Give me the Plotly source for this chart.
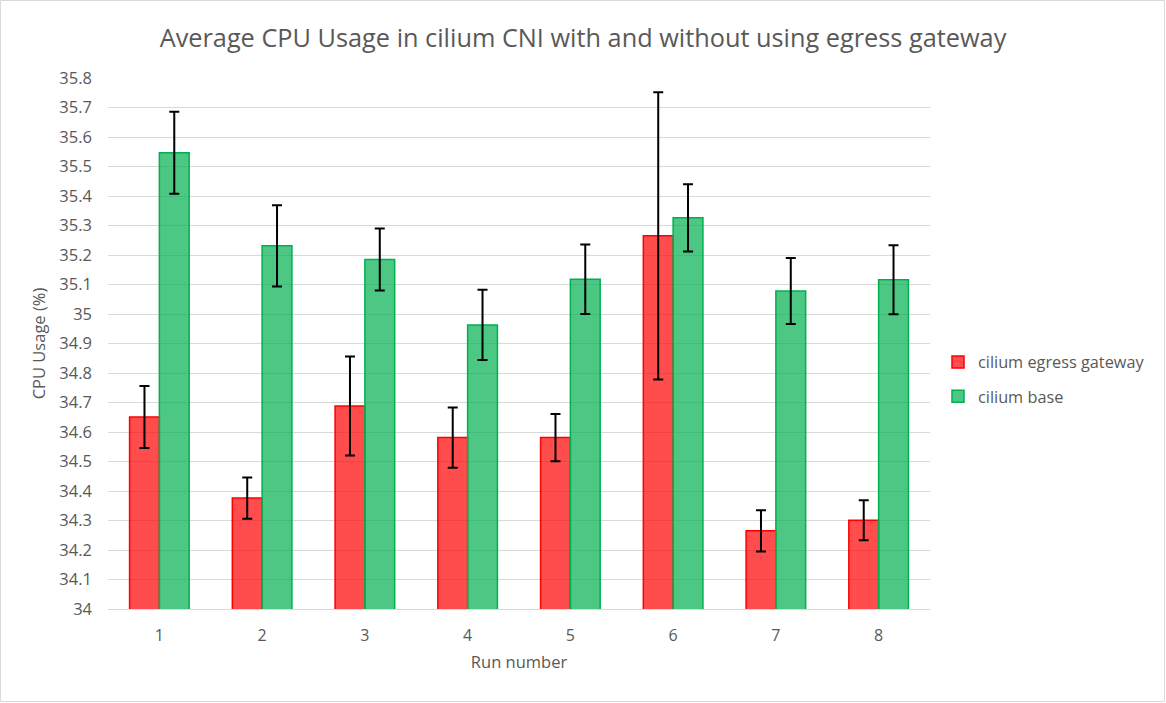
import plotly.graph_objects as go

runs = ["1", "2", "3", "4", "5", "6", "7", "8"]
egress = [34.651, 34.376, 34.688, 34.581, 34.581, 35.265, 34.265, 34.301]
egress_err = [0.105, 0.070, 0.168, 0.102, 0.080, 0.487, 0.070, 0.068]
base = [35.547, 35.231, 35.185, 34.963, 35.118, 35.326, 35.078, 35.116]
base_err = [0.139, 0.138, 0.105, 0.119, 0.118, 0.114, 0.112, 0.117]
ytick_vals = [round(34 + i * 0.1, 1) for i in range(19)]
ytick_text = ["34", "34.1", "34.2", "34.3", "34.4", "34.5", "34.6", "34.7", "34.8", "34.9",
              "35", "35.1", "35.2", "35.3", "35.4", "35.5", "35.6", "35.7", "35.8"]

FONT = "Open Sans"
GREY = "#595959"

fig = go.Figure()
fig.add_trace(go.Bar(
    x=runs, y=egress, name="cilium egress gateway", legendgroup="g1",
    marker=dict(color="rgba(255,0,0,0.7)", line=dict(color="#FF0000", width=1.5)),
    error_y=dict(type="data", array=egress_err, visible=True, color="black", thickness=2, width=5),
))
fig.add_trace(go.Bar(
    x=runs, y=base, name="cilium base", legendgroup="g2",
    marker=dict(color="rgba(0,176,80,0.7)", line=dict(color="#00B050", width=1.5)),
    error_y=dict(type="data", array=base_err, visible=True, color="black", thickness=2, width=5),
))

L, R, T, B = 108, 236, 78, 94
W, H = 1166, 703
pw, ph = W - L - R, H - T - B

fig.update_layout(
    width=W, height=H,
    margin=dict(l=L, r=R, t=T, b=B),
    paper_bgcolor="white", plot_bgcolor="white",
    barmode="group", bargap=0.42, bargroupgap=0,
    font=dict(family=FONT, color=GREY, size=16),
    title=dict(text="Average CPU Usage in cilium CNI with and without using egress gateway",
               x=0.5, xanchor="center", y=1 - 38 / H, yanchor="middle",
               font=dict(family=FONT, size=25.3, color=GREY)),
    xaxis=dict(title=dict(text="Run number", font=dict(size=16.5, color=GREY), standoff=11),
               showgrid=False, showline=True, linecolor="#D9D9D9", linewidth=1,
               ticks="", ticklabelstandoff=12, tickfont=dict(size=16, color=GREY)),
    yaxis=dict(title=dict(text="CPU Usage (%)", font=dict(size=16.5, color=GREY), standoff=9),
               range=[34, 35.8], tickvals=ytick_vals, ticktext=ytick_text,
               showgrid=True, gridcolor="#D9D9D9", gridwidth=1, zeroline=False,
               ticks="", ticklabelstandoff=15, tickfont=dict(size=16.5, color=GREY)),
    legend=dict(x=(938 - L) / pw, y=(609 - 345) / ph, xanchor="left", yanchor="top",
                font=dict(size=16.3, color=GREY), bgcolor="rgba(0,0,0,0)",
                tracegroupgap=10, itemwidth=30),
    shapes=[dict(type="rect", xref="paper", yref="paper",
                 x0=(0.5 - L) / pw, x1=(W - 1.5 - L) / pw,
                 y0=(T + ph - (H - 1.5)) / ph, y1=(T + ph - 0.5) / ph,
                 line=dict(color="#D9D9D9", width=1), fillcolor="rgba(0,0,0,0)", layer="below")],
)

fig.write_html("out.html", config={"displayModeBar": False},
               post_script="document.body.style.margin='0';document.body.style.overflow='hidden';")
